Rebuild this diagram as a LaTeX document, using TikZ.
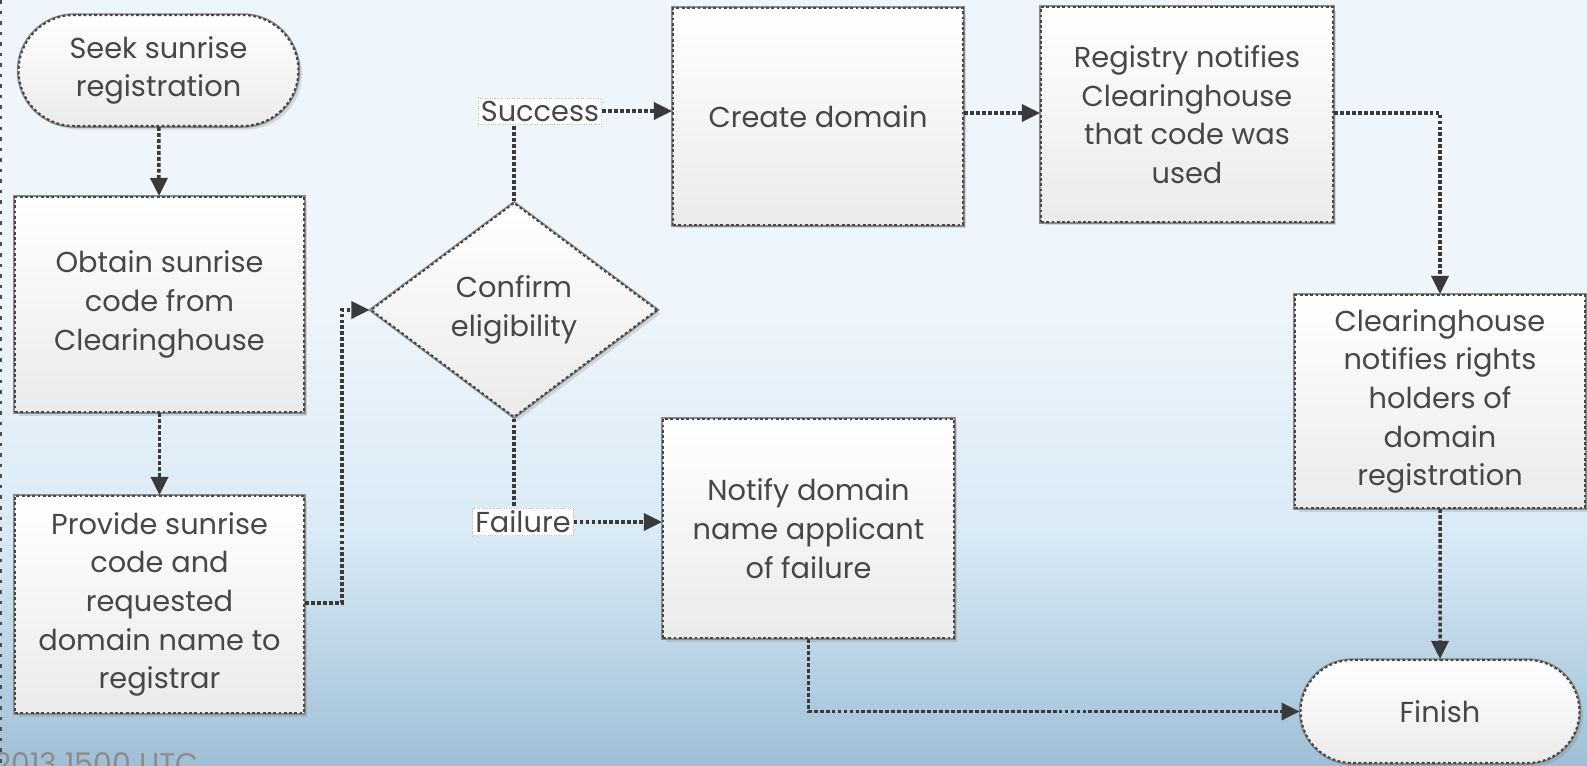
\documentclass[tikz,border=0pt]{standalone}
\usepackage{fontspec}
\setmainfont{Poppins}
\usetikzlibrary{shapes.geometric,shapes.misc,arrows.meta,shadows}
\definecolor{bgtop}{HTML}{EEF5FB}
\definecolor{bgmid}{HTML}{D9EAF6}
\definecolor{bgbot}{HTML}{9FBFD6}
\definecolor{txt}{HTML}{474747}
\definecolor{lineclr}{HTML}{3A3A3A}
\pgfdeclareverticalshading{bgshade}{100bp}{color(0bp)=(bgbot); color(25bp)=(bgbot); color(40bp)=(bgmid); color(55bp)=(bgtop); color(75bp)=(bgtop); color(100bp)=(bgtop)}
\tikzset{
  px/.style={x=0.02cm,y=-0.02cm},
  shapebase/.style={draw=black!72, line width=1.2pt, dash pattern=on 1.6pt off 1.4pt,
    preaction={draw=black!45, line width=2pt, solid},
    top color=white, bottom color=black!8,
    drop shadow={opacity=0.25, shadow xshift=2pt, shadow yshift=-2pt},
    text=txt, align=center, inner sep=2pt,
    font=\fontsize{16.4}{22}\selectfont},
  procbox/.style={shapebase, rectangle},
  termbox/.style={shapebase, rounded rectangle},
  decbox/.style={shapebase, diamond, inner sep=0pt},
  lbl/.style={fill=white, draw=black!25, densely dotted, text=txt, inner sep=1.5pt,
    font=\fontsize{16.4}{19}\selectfont},
  conn/.style={draw=lineclr, line width=2pt, dash pattern=on 2.2pt off 1.2pt,
    -{Triangle[length=0.36cm, width=0.34cm, sep=0pt]}},
  connplain/.style={draw=lineclr, line width=2pt, dash pattern=on 2.2pt off 1.2pt}
}
\begin{document}
\begin{tikzpicture}[px]
\useasboundingbox (0,0) rectangle (1587,765);
\shade[shading=bgshade] (0,0) rectangle (1587,765);
\draw[black!70, line width=1.5pt, dash pattern=on 2pt off 4pt] (1,0) -- (1,765);
\node[text=black!45, font=\fontsize{17}{20}\selectfont, anchor=north west, inner sep=0pt] (stamp) at (-6,752) {2013 1500 UTC};

\node[termbox, minimum width=5.74cm, minimum height=2.22cm] (start) at (158.5,70.5) {Seek sunrise\\registration};
\node[procbox, minimum width=5.78cm, minimum height=4.3cm] (obtain) at (159.5,304.5) {Obtain sunrise\\code from\\Clearinghouse};
\node[procbox, minimum width=5.78cm, minimum height=4.34cm] (provide) at (159.5,604.5) {Provide sunrise\\code and\\requested\\domain name to\\registrar};
\node[decbox, minimum width=5.74cm, minimum height=4.3cm] (conf) at (514,310) {Confirm\\eligibility};
\node[procbox, minimum width=5.8cm, minimum height=4.34cm] (create) at (818,116.5) {Create domain};
\node[procbox, minimum width=5.84cm, minimum height=4.3cm] (reg) at (1187,114.5) {Registry notifies\\Clearinghouse\\that code was\\used};
\node[procbox, minimum width=5.8cm, minimum height=4.26cm] (clear) at (1440,401.5) {Clearinghouse\\notifies rights\\holders of\\domain\\registration};
\node[termbox, minimum width=5.72cm, minimum height=2.06cm] (finish) at (1440,711.5) {Finish};
\node[procbox, minimum width=5.82cm, minimum height=4.38cm] (notify) at (808.5,528.5) {Notify domain\\name applicant\\of failure};
\node[lbl] (succ) at (540,111) {Success};
\node[lbl] (fail) at (523,522) {Failure};
\coordinate (j1) at (342,603);

\draw[conn] (start) -- (obtain);
\draw[conn] (obtain) -- (provide);
\draw[conn] (provide.east |- j1) -- (j1) |- (conf.west);
\draw[connplain] (conf.north) -- (succ.south -| conf.north);
\draw[conn] (succ.east) -- (succ.east -| create.west);
\draw[conn] (create.east |- 0,113) -- (reg.west |- 0,113);
\draw[conn] (reg.east |- 0,113) -| (clear.north);
\draw[conn] (clear) -- (finish);
\draw[connplain] (conf.south) -- (fail.north -| conf.south);
\draw[conn] (fail.east) -- (fail.east -| notify.west);
\draw[conn] (notify.south) |- (finish.west);
\end{tikzpicture}
\end{document}
